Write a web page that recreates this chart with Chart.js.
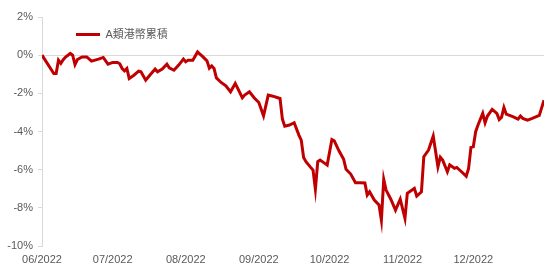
<!DOCTYPE html>
<html>
<head>
<meta charset="utf-8">
<script src="https://cdn.jsdelivr.net/npm/chart.js@4/dist/chart.umd.min.js"></script>
<style>
  html, body { margin: 0; padding: 0; background: #fff; }
  #wrap { width: 544px; height: 264px; }
</style>
</head>
<body>
<div id="wrap"><canvas id="lineChart"></canvas></div>
<script>
(function () {
    "use strict";

    var seriesName = "A類港幣累積";

    // days since 2022-06-01
    var days = [
        0, 5, 6, 7, 8, 9, 10, 12, 13, 14, 15, 17, 19, 21, 24, 26, 28, 30, 32, 33,
        34, 35, 36, 37, 39, 41, 42, 44, 46, 48, 49, 51, 53, 54, 56, 58, 60, 61, 62, 64,
        66, 67, 68, 70, 71, 72, 73, 74, 76, 78, 80, 82, 85, 86, 88, 90, 92, 94, 96, 98,
        100, 101, 102, 103, 105, 107, 109, 110, 111, 112, 114, 115, 116, 117, 118, 120, 121, 123, 124, 126,
        128, 129, 131, 133, 135, 137, 138, 139, 141, 143, 144, 145, 146, 148, 150, 152, 154, 155, 157, 158,
        159, 161, 162, 164, 166, 168, 169, 170, 172, 173, 175, 176, 178, 180, 181, 182, 183, 184, 185, 187,
        188, 189, 191, 193, 194, 195, 196, 197, 200, 202, 203, 204, 206, 208, 211, 213
    ];

    // cumulative return, %
    var returns = [
        0, -0.96, -0.96, -0.26, -0.43, -0.24, -0.10, 0.09, 0, -0.49, -0.23, -0.09, -0.09, -0.31, -0.21, -0.12, -0.47, -0.38, -0.38, -0.45,
        -0.70, -0.82, -0.70, -1.22, -1.05, -0.84, -0.87, -1.31, -1.01, -0.73, -0.87, -0.73, -0.47, -0.66, -0.79, -0.52, -0.21, -0.35, -0.26, -0.26,
        0.17, 0.06, -0.05, -0.30, -0.68, -0.56, -0.70, -1.19, -1.43, -1.61, -1.92, -1.48, -2.23, -2.09, -1.92, -2.23, -2.48, -3.18, -2.09, -2.15,
        -2.23, -2.27, -3.35, -3.72, -3.66, -3.54, -4.19, -4.45, -5.36, -5.58, -5.88, -6.02, -7.03, -5.58, -5.50, -5.67, -5.76, -4.42, -4.49, -5.01,
        -5.46, -5.98, -6.23, -6.68, -6.68, -6.70, -7.33, -7.16, -7.59, -7.85, -8.64, -6.51, -7.07, -7.55, -8.12, -7.55, -8.55, -7.24, -7.07, -6.98,
        -7.38, -7.16, -5.32, -4.97, -4.24, -5.85, -5.35, -5.50, -6.11, -5.75, -5.93, -5.88, -6.11, -6.34, -5.93, -4.83, -4.80, -4.01, -3.66, -3.05,
        -3.54, -3.19, -2.84, -3.05, -3.37, -3.25, -2.74, -3.09, -3.23, -3.35, -3.19, -3.31, -3.40, -3.31, -3.16, -2.36
    ];

    var monthStarts = [0, 30, 61, 92, 122, 153, 183];
    var monthLabels = ["06/2022", "07/2022", "08/2022", "09/2022", "10/2022", "11/2022", "12/2022"];

    var yTicks = [2, 0, -2, -4, -6, -8, -10];

    var red = "#c00000";
    var grey = "#595959";
    var lineGrey = "#d9d9d9";
    var font = { family: "Arial, 'Liberation Sans', 'Noto Sans CJK TC', sans-serif", size: 11 };

    var points = days.map(function (d, i) {
        return { x: d, y: returns[i] };
    });

    // move the legend down and right, inside the plot
    var legendShift = {
        id: "legendShift",
        afterLayout: function (chart) {
            chart.legend.left += 22;
            chart.legend.right += 22;
            chart.legend.top += 17;
            chart.legend.bottom += 17;
        }
    };

    var ctx = document.getElementById("lineChart");
    new Chart(ctx, {
        type: "line",
        data: {
            datasets: [{
                label: seriesName,
                data: points,
                borderColor: red,
                backgroundColor: red,
                borderWidth: 3,
                pointRadius: 0,
                tension: 0,
                fill: false
            }]
        },
        options: {
            responsive: true,
            maintainAspectRatio: false,
            animation: false,
            layout: { padding: { top: 17, right: 0, bottom: 0, left: 0 } },
            plugins: {
                tooltip: { enabled: false },
                legend: {
                    position: "chartArea",
                    align: "start",
                    labels: {
                        boxWidth: 24,
                        boxHeight: 3,
                        padding: 12,
                        color: grey,
                        font: font,
                        generateLabels: function (chart) {
                            return Chart.defaults.plugins.legend.labels.generateLabels(chart).map(function (l) {
                                l.lineWidth = 0;
                                l.fillStyle = red;
                                return l;
                            });
                        }
                    }
                }
            },
            scales: {
                x: {
                    type: "linear",
                    min: 0,
                    max: 213,
                    afterBuildTicks: function (scale) {
                        scale.ticks = monthStarts.map(function (v) { return { value: v }; });
                    },
                    afterFit: function (scale) { scale.height = 18; },
                    grid: { display: false, drawTicks: false },
                    border: { display: false },
                    ticks: {
                        color: grey,
                        font: font,
                        padding: 7,
                        maxRotation: 0,
                        autoSkip: false,
                        callback: function (v) {
                            var i = monthStarts.indexOf(v);
                            return i >= 0 ? monthLabels[i] : "";
                        }
                    }
                },
                y: {
                    min: -10,
                    max: 2,
                    afterBuildTicks: function (scale) {
                        scale.ticks = yTicks.map(function (v) { return { value: v }; });
                    },
                    afterFit: function (scale) { scale.width = 42; },
                    grid: {
                        color: function (c) { return c.tick && c.tick.value === 0 ? lineGrey : "rgba(0,0,0,0)"; },
                        tickColor: lineGrey,
                        tickLength: 4,
                        lineWidth: 1
                    },
                    border: { display: true, color: lineGrey },
                    ticks: {
                        color: grey,
                        font: font,
                        padding: 5,
                        callback: function (v) { return v + "%"; }
                    }
                }
            }
        },
        plugins: [legendShift]
    });
})();
</script>
</body>
</html>
